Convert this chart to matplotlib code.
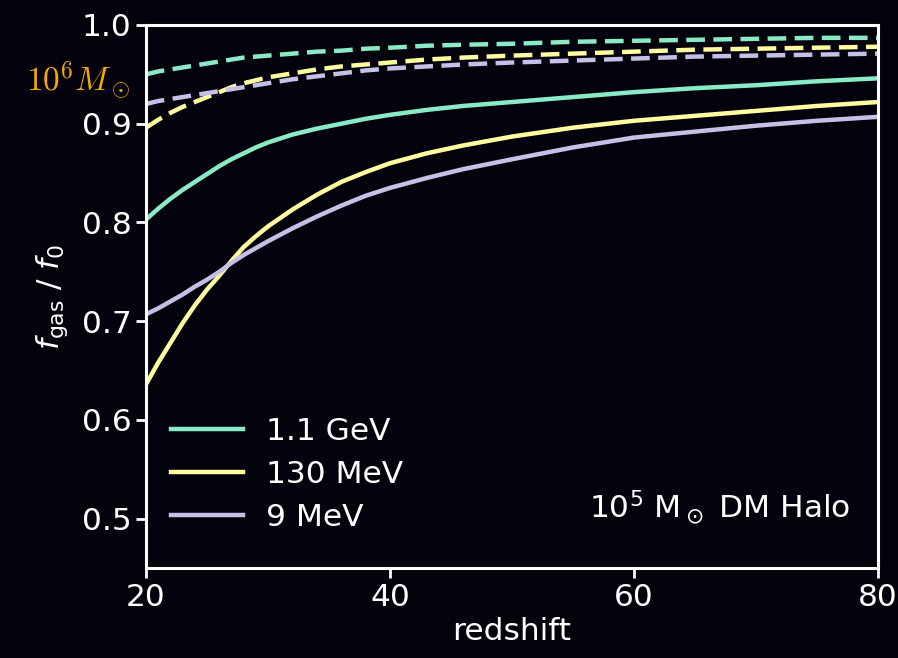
import matplotlib
matplotlib.use("Agg")
import matplotlib.pyplot as plt

redshift = [20, 21, 22, 23, 24, 25, 26, 27, 28, 29, 30, 32, 34, 36, 38, 40, 43, 46, 50, 55, 60, 65, 70, 75, 80]

# 10^5 Msun halo (solid)
gev_1p1 = [0.803, 0.814, 0.824, 0.833, 0.841, 0.849, 0.857, 0.864, 0.870, 0.876, 0.881, 0.889, 0.895,
           0.900, 0.905, 0.909, 0.914, 0.918, 0.922, 0.927, 0.932, 0.936, 0.939, 0.943, 0.946]
mev_130 = [0.636, 0.658, 0.678, 0.698, 0.716, 0.732, 0.746, 0.761, 0.775, 0.786, 0.796, 0.813, 0.828,
           0.841, 0.851, 0.860, 0.870, 0.878, 0.887, 0.896, 0.903, 0.908, 0.913, 0.918, 0.922]
mev_9 = [0.707, 0.713, 0.720, 0.727, 0.735, 0.742, 0.750, 0.759, 0.767, 0.774, 0.781, 0.794, 0.806,
         0.817, 0.827, 0.835, 0.845, 0.854, 0.864, 0.876, 0.886, 0.892, 0.898, 0.903, 0.907]

# 10^6 Msun halo (dashed)
gev_1p1_6 = [0.950, 0.953, 0.955, 0.957, 0.959, 0.961, 0.963, 0.965, 0.967, 0.968, 0.969, 0.971, 0.973,
             0.974, 0.976, 0.977, 0.979, 0.980, 0.981, 0.983, 0.984, 0.985, 0.986, 0.987, 0.987]
mev_130_6 = [0.896, 0.904, 0.911, 0.917, 0.922, 0.927, 0.932, 0.937, 0.941, 0.944, 0.947, 0.951, 0.955,
             0.958, 0.960, 0.962, 0.965, 0.967, 0.969, 0.971, 0.973, 0.975, 0.976, 0.977, 0.978]
mev_9_6 = [0.920, 0.923, 0.925, 0.927, 0.929, 0.931, 0.933, 0.935, 0.937, 0.939, 0.941, 0.945, 0.948,
           0.951, 0.954, 0.956, 0.958, 0.960, 0.962, 0.964, 0.966, 0.968, 0.969, 0.970, 0.971]

labels = ["1.1 GeV", "130 MeV", "9 MeV"]
colors = ["#8aeac8", "#fffb9e", "#c6bfe6"]
xticks = [20, 40, 60, 80]
yticks = [0.5, 0.6, 0.7, 0.8, 0.9, 1.0]

bg = "#04030d"
fs = 22.5
plt.rcParams["font.family"] = ["DejaVu Sans"]

fig = plt.figure(figsize=(8.98, 6.58), dpi=100, facecolor=bg)
ax = fig.add_axes([146 / 898, 1 - 568 / 658, 732 / 898, 543 / 658])
ax.set_facecolor(bg)

solid = [gev_1p1, mev_130, mev_9]
dashed = [gev_1p1_6, mev_130_6, mev_9_6]
for ys, c, lab in zip(solid, colors, labels):
    ax.plot(redshift, ys, color=c, lw=3.2, label=lab)
for ys, c in zip(dashed, colors):
    ax.plot(redshift, ys, color=c, lw=3.2, ls=(0, (4.2, 1.9)))

ax.set_xlim(20, 80)
ax.set_ylim(0.45, 1.0)
ax.set_xticks(xticks)
ax.set_yticks(yticks)
ax.set_yticklabels([f"{v:.1f}" for v in yticks])
for s in ax.spines.values():
    s.set_color("white")
    s.set_linewidth(2.2)
ax.tick_params(colors="white", labelsize=fs, length=7, width=2)

ax.set_xlabel("redshift", color="white", fontsize=fs, labelpad=4)
ax.set_ylabel(r"$f_{\rm gas}$ / $f_0$", color="white", fontsize=fs, labelpad=8)

leg = ax.legend(loc="lower left", frameon=False, fontsize=fs, handlelength=2.3,
                handletextpad=0.75, labelspacing=0.45, borderaxespad=0.4,
                bbox_to_anchor=(0.0, 0.02))
for t in leg.get_texts():
    t.set_color("white")

ax.text(0.963, 0.11, r"$10^5$ M$_\odot$ DM Halo", transform=ax.transAxes,
        ha="right", va="center", color="white", fontsize=fs)

fig.text(78 / 898, 1 - 80 / 658, r"$10^6M_\odot$", ha="center", va="center",
         color="#f5ab00", fontsize=24, math_fontfamily="cm")

fig.savefig("out.png", dpi=100, facecolor=bg)
